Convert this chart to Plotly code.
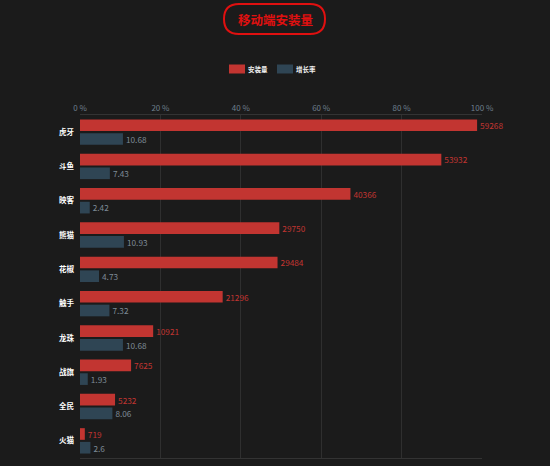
import plotly.graph_objects as go

# dados
plataformas = ["虎牙", "斗鱼", "映客", "熊猫", "花椒", "触手", "龙珠", "战旗", "全民", "火猫"]
instalacoes = [59268, 53932, 40366, 29750, 29484, 21296, 10921, 7625, 5232, 719]
crescimento = [10.68, 7.43, 2.42, 10.93, 4.73, 7.32, 10.68, 1.93, 8.06, 2.6]
escala_max = 60000  # instalacoes em % de 60000

vermelho = "#c23531"
azul = "#2f4554"
fundo = "#1b1b1b"

inst_pct = [v / escala_max * 100 for v in instalacoes]

fig = go.Figure()
fig.add_trace(go.Bar(
    y=plataformas, x=inst_pct, orientation="h", name="安装量",
    marker=dict(color=vermelho, line=dict(width=0)), text=[str(v) for v in instalacoes],
    textposition="outside", textfont=dict(color=vermelho, size=8.5),
    cliponaxis=False, showlegend=False))
fig.add_trace(go.Bar(
    y=plataformas, x=crescimento, orientation="h", name="增长率",
    marker=dict(color=azul, line=dict(width=0)), text=[str(v) for v in crescimento],
    textposition="outside", textfont=dict(color="#7d8a96", size=8.5),
    cliponaxis=False, showlegend=False))

# caixa do titulo (pixel relativo ao topo do grafico)
cx = (275 - 80) / 402
def pilula(x0, x1, y0, y1):
    r = (y1 - y0) / 2
    return (f"M {x0 + r},{y0} L {x1 - r},{y0} Q {x1},{y0} {x1},{y0 + r} "
            f"Q {x1},{y1} {x1 - r},{y1} L {x0 + r},{y1} Q {x0},{y1} {x0},{y0 + r} "
            f"Q {x0},{y0} {x0 + r},{y0} Z")

shapes = [dict(type="path", xref="paper", yref="paper", xsizemode="pixel", ysizemode="pixel",
               xanchor=cx, yanchor=1, path=pilula(-51, 50, 81, 111),
               line=dict(color="#e01010", width=2), fillcolor="rgba(0,0,0,0)")]

# legenda manual
legenda = [("安装量", vermelho, -46), ("增长率", azul, 2)]
annots = [dict(text="<b>移动端安装量</b>", xref="paper", yref="paper", x=cx, y=1, yshift=96,
               yanchor="middle", showarrow=False, font=dict(color="#e01010", size=12.5))]
for nome, cor, dx in legenda:
    shapes.append(dict(type="rect", xref="paper", yref="paper", xsizemode="pixel", ysizemode="pixel",
                       xanchor=cx, yanchor=1, x0=dx, x1=dx + 16, y0=41.5, y1=50.5,
                       line=dict(width=0), fillcolor=cor))
    annots.append(dict(text=nome, xref="paper", yref="paper", x=cx, y=1, xshift=dx + 17, yshift=46,
                       xanchor="left", yanchor="middle", showarrow=False,
                       font=dict(color="#eeeeee", size=6.5, weight="bold")))

fig.update_layout(
    width=550, height=466,
    margin=dict(l=80, r=68, t=115, b=8),
    paper_bgcolor=fundo, plot_bgcolor=fundo,
    barmode="group", bargap=0.2, bargroupgap=0.15,
    font=dict(family="Noto Sans CJK SC", color="#dddddd"),
    shapes=shapes, annotations=annots,
    xaxis=dict(side="top", range=[0, 100], dtick=20, ticksuffix=" %",
               tickfont=dict(color="#6e7f8d", size=8), gridcolor="#2f2f2f",
               showline=True, linecolor="#333333", mirror=True, zeroline=False),
    yaxis=dict(autorange="reversed", tickfont=dict(color="#ffffff", size=7.5, weight="bold"),
               showgrid=False, ticks="", ticklabelstandoff=5),
)

fig.write_html("out.html", config={"displayModeBar": False},
               post_script="document.body.style.margin='0';")
